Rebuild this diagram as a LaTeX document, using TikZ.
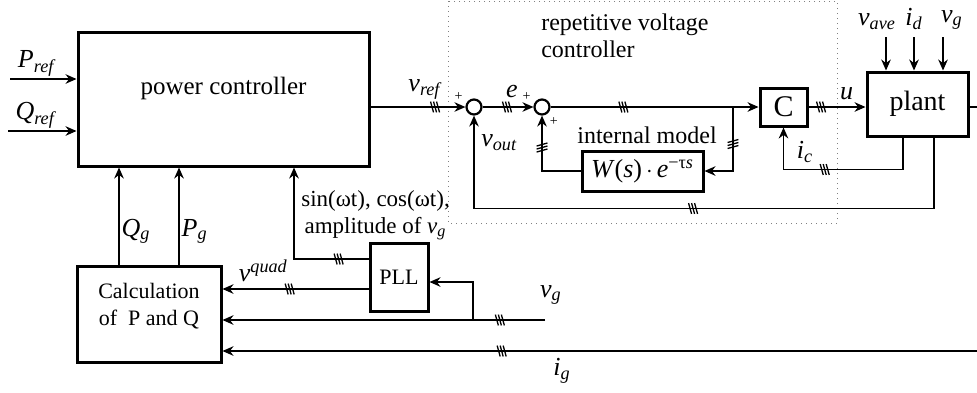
\documentclass[tikz,border=0pt]{standalone}
\usepackage{fontspec}
\setmainfont{Liberation Serif}
\usetikzlibrary{arrows.meta,positioning,decorations.markings}

\newcommand{\sig}[2]{\textit{#1}\textsubscript{\textit{#2}}}
\newcommand{\hashmark}{\draw[-, line width=.65pt] (-2.25pt,2.7pt) -- (-.75pt,-2.7pt)
  (-.75pt,2.7pt) -- (.75pt,-2.7pt) (.75pt,2.7pt) -- (2.25pt,-2.7pt);}

\begin{document}
\begin{tikzpicture}[x=0.5pt, y=-0.5pt,
  font=\fontsize{12}{13.5}\selectfont, line width=.65pt,
  box/.style={draw, line width=1.5pt, inner sep=2pt, align=center},
  sum/.style={draw, circle, line width=1.1pt, minimum size=7.5pt, inner sep=0pt},
  sign/.style={font=\fontsize{7}{8}\selectfont, inner sep=0pt, label distance=2pt},
  lbl/.style={font=\fontsize{13}{15}\selectfont},
  hash/.style={postaction={decorate},
    decoration={markings, mark=at position #1 with {\hashmark}}},
  >={Stealth[length=5.5pt, width=4.8pt, inset=1.8pt]}]
\useasboundingbox (0,0) rectangle (977,392);

% blocks
\node[box, minimum width=145.5pt, minimum height=67pt,
  label={[yshift=5.5pt, font=\fontsize{12.5}{14}\selectfont]center:power controller}] (pc) at (223.5,99) {};
\node[box, minimum width=72pt, minimum height=48pt,
  label={[yshift=4pt, align=center, font=\fontsize{11}{13.5}\selectfont]center:Calculation\\of~ P and Q}] (calc) at (149,314) {};
\node[box, minimum width=29pt, minimum height=34pt, font=\fontsize{11}{13}\selectfont] (pll) at (399,277) {PLL};
\node[sum, label={[sign]150:+}] (j1) at (474,107) {};
\node[sum, label={[sign]150:+}, label={[sign]-55:+}] (j2) at (542,107) {};
\node[box, minimum width=23.5pt, minimum height=19pt, font=\fontsize{15}{16}\selectfont] (ctrl) at (783.5,107) {C};
\node[box, minimum width=50.5pt, minimum height=32pt, font=\fontsize{14}{16}\selectfont] (plant) at (917.5,104) {plant};
\node[box, minimum width=60.5pt, minimum height=20pt, font=\fontsize{13}{15}\selectfont] (wm) at (642.5,171)
  {\textit{W}(\textit{s})$\,\cdot\,$\textit{e}\textsuperscript{−τ\textit{s}}};
\node (imlabel) at (647,135) {internal model};

% repetitive controller frame
\draw[dotted, line width=.5pt, gray] (448,1) rectangle (837,223);
\node[align=left, anchor=west] (rvc) at (534,36) {repetitive voltage\\controller};

% free ends
\coordinate (pin) at (10,79);
\coordinate (qin) at (8,131);
\coordinate (br) at (733,107);
\coordinate (pout) at (977,107);
\coordinate (vavein) at (886,37);
\coordinate (idin) at (914,37);
\coordinate (vgtop) at (943,37);
\coordinate (vgin) at (545,320);
\coordinate (vgbr) at (473,320);
\coordinate (igin) at (977,351);

% references
\draw[->] (pin) -- node[lbl, above, inner sep=1pt, xshift=-3pt]{\sig{P}{ref}} (pin -| pc.west);
\draw[->] (qin) -- node[lbl, above, inner sep=1pt, xshift=-3pt]{\sig{Q}{ref}} (qin -| pc.west);
\draw[->, hash=.68] (pc.east |- j1) -- node[lbl, above, pos=.58]{\sig{v}{ref}} (j1);

% voltage loop
\draw[->, hash=.48] (j1) -- node[lbl, above, xshift=2pt, yshift=1pt]{\textit{e}} (j2);
\draw[->, hash=.35] (j2) -- (ctrl);
\draw[->, hash=.40] (br) |- (wm);
\draw[->, hash=.66] (wm) -| (j2);
\draw[->, hash=.22] (ctrl) -- node[lbl, above, pos=.67]{\textit{u}} (ctrl -| plant.west);
\draw (ctrl -| plant.east) -- (pout);
\draw[->] (vavein) node[lbl, above, xshift=-4.5pt]{\sig{v}{ave}} -- (vavein |- plant.north);
\draw[->] (idin) node[lbl, above]{\sig{i}{d}} -- (idin |- plant.north);
\draw[->] (vgtop) node[lbl, above, xshift=4.5pt]{\sig{v}{g}} -- (vgtop |- plant.north);
\draw[->, hash=.57] ([xshift=-7.25pt]plant.south) -- ++(0,32)
  -| node[lbl, right, pos=.71, xshift=3pt]{\sig{i}{c}} (ctrl);
\draw[->, hash=.50] ([xshift=8.25pt]plant.south) -- ++(0,71)
  -| node[lbl, right, pos=.855]{\sig{v}{out}} (j1);

% power calculation and PLL
\draw[->] ([xshift=-15pt]calc.north) -- node[lbl, right, pos=.34, inner sep=1pt]{\sig{Q}{g}}
  ([xshift=-15pt]calc.north |- pc.south);
\draw[->] ([xshift=15pt]calc.north) -- node[lbl, right, pos=.34, inner sep=1pt]{\sig{P}{g}}
  ([xshift=15pt]calc.north |- pc.south);
\draw[->, hash=.18] ([yshift=9pt]pll.west) -| node[right, pos=.74, align=center,
  font=\fontsize{11.5}{13.5}\selectfont]{sin(ωt), cos(ωt),\\amplitude of \sig{v}{g}}
  ([xshift=35.25pt]pc.south);
\draw[->, hash=.54] ([yshift=-6pt]pll.west) -- node[lbl, above, pos=.72]{\textit{v}\textsuperscript{\textit{quad}}}
  ([yshift=-6pt]pll.west -| calc.east);
\draw[->, hash=.14] (vgin) node[lbl, above, xshift=3pt, yshift=4pt]{\sig{v}{g}} -- (vgin -| calc.east);
\draw[->] (vgbr) |- ([yshift=-2.5pt]pll.east);
\draw[->, hash=.63] (igin) -- node[lbl, below, pos=.55]{\sig{i}{g}} (igin -| calc.east);
\end{tikzpicture}
\end{document}
